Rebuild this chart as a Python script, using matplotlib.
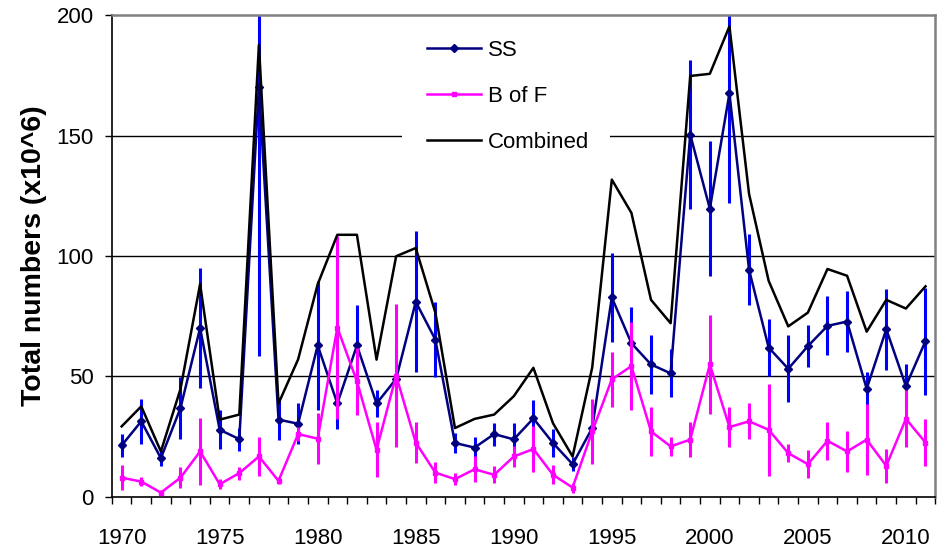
import matplotlib
matplotlib.use("Agg")
import matplotlib.pyplot as plt
from matplotlib.patches import Rectangle
from matplotlib.ticker import MultipleLocator

plt.rcParams['font.family'] = ['Liberation Sans', 'DejaVu Sans']

years = list(range(1970, 2012))

# SS estimates and their +/- error
ss = [21.4, 31.4, 16.1, 36.9, 70.1, 27.9, 24.0, 170.3, 32.1, 30.4,
      62.9, 38.8, 62.9, 38.8, 49.0, 81.0, 65.3, 22.4, 20.5, 26.1,
      23.9, 32.6, 22.4, 13.6, 28.6, 82.8, 63.8, 55.0, 51.3, 150.4,
      119.6, 167.5, 94.3, 62.0, 53.2, 62.6, 71.0, 72.8, 44.9, 69.6,
      46.0, 64.7]
ss_err = [4.8, 9.3, 3.3, 12.8, 24.8, 8.0, 4.8, 112.0, 8.3, 8.5,
          26.9, 10.5, 16.9, 5.8, 12.0, 29.2, 15.7, 4.3, 4.2, 4.8,
          7.0, 7.7, 5.8, 3.0, 8.0, 18.5, 15.0, 12.2, 10.0, 31.0,
          28.0, 45.4, 14.8, 12.0, 13.9, 8.8, 12.2, 12.5, 7.0, 16.8,
          9.0, 22.2]

# B of F estimates and their +/- error
bof = [8.0, 6.4, 1.8, 8.0, 18.9, 5.3, 9.9, 16.8, 6.7, 26.1,
       24.2, 70.3, 48.0, 19.6, 50.4, 22.6, 10.1, 7.4, 11.5, 9.2,
       16.8, 19.9, 9.2, 3.9, 27.2, 48.8, 54.3, 27.2, 21.0, 23.8,
       55.0, 29.0, 31.4, 27.9, 18.2, 13.6, 23.3, 18.9, 23.8, 12.9,
       32.4, 22.6]
bof_err = [5.2, 2.0, 1.0, 4.4, 13.9, 2.0, 2.7, 8.1, 1.5, 3.0,
           10.5, 38.0, 14.0, 11.5, 29.5, 8.5, 4.3, 2.5, 5.4, 3.5,
           4.5, 9.6, 4.0, 2.1, 13.5, 11.5, 18.3, 10.0, 4.0, 7.3,
           20.5, 8.3, 7.5, 19.0, 3.8, 5.8, 8.0, 8.4, 14.8, 7.2,
           11.8, 9.7]

combined = [29.3, 37.6, 18.9, 44.8, 88.3, 32.1, 34.2, 187.6, 38.8, 57.1,
            88.3, 108.8, 108.8, 57.0, 99.9, 103.3, 76.5, 28.6, 32.4, 34.2,
            41.8, 53.6, 30.6, 16.8, 53.7, 131.7, 117.9, 81.8, 72.1, 174.7,
            175.6, 195.3, 125.8, 89.7, 70.8, 76.5, 94.6, 91.8, 68.6, 81.8,
            78.2, 87.4]

label_years = [1970, 1975, 1980, 1985, 1990, 1995, 2000, 2005, 2010]

fig = plt.figure(figsize=(9.4, 5.5), dpi=100)
ax = fig.add_axes([0.119, 0.0964, 0.876, 0.8763])

# horizontal gridlines
for v in [50, 100, 150]:
    ax.axhline(v, color='black', lw=1.0, zorder=1)

# white block behind the legend hides part of the 150 gridline
ax.add_patch(Rectangle((0.352, 0.70), 0.253, 0.08, transform=ax.transAxes,
                       facecolor='white', edgecolor='none', zorder=1.5))

ax.errorbar(years, ss, yerr=ss_err, fmt='none', ecolor='#0000FF',
            elinewidth=2.2, capsize=0, zorder=2)
ax.plot(years, ss, color='#000080', lw=1.8, marker='D', ms=4,
        mfc='#000080', mec='#000080', label='SS', zorder=3)

ax.errorbar(years, bof, yerr=bof_err, fmt='none', ecolor='#FF00FF',
            elinewidth=2.2, capsize=0, zorder=4)
ax.plot(years, bof, color='#FF00FF', lw=1.8, marker='s', ms=3.5,
        mfc='#FF00FF', mec='#FF00FF', label='B of F', zorder=5)

ax.plot(years, combined, color='black', lw=1.8, label='Combined', zorder=6)

ax.set_xlim(1969.5, 2011.5)
ax.set_ylim(0, 200)

ax.set_xticks(label_years)
ax.set_xticklabels([str(y) for y in label_years])
ax.xaxis.set_minor_locator(MultipleLocator(1, offset=0.5))
ax.tick_params(axis='x', which='major', length=0, pad=22, labelsize=16)
ax.tick_params(axis='x', which='minor', length=5, width=1, direction='out')

ax.set_yticks([0, 50, 100, 150, 200])
ax.tick_params(axis='y', which='major', length=5, width=1, direction='out',
               pad=8, labelsize=16)

for side in ['left', 'bottom']:
    ax.spines[side].set_color('black')
    ax.spines[side].set_linewidth(1.2)
for side in ['top', 'right']:
    ax.spines[side].set_color('#808080')
    ax.spines[side].set_linewidth(1.8)

ax.set_ylabel('Total numbers (x10^6)', fontsize=20.5, fontweight='bold',
              labelpad=7)

ax.legend(loc='upper left', bbox_to_anchor=(0.383, 0.949), frameon=False,
          fontsize=16, handlelength=2.4, handletextpad=0.35,
          labelspacing=1.14, borderpad=0, borderaxespad=0)

fig.savefig('out.png', dpi=100)
